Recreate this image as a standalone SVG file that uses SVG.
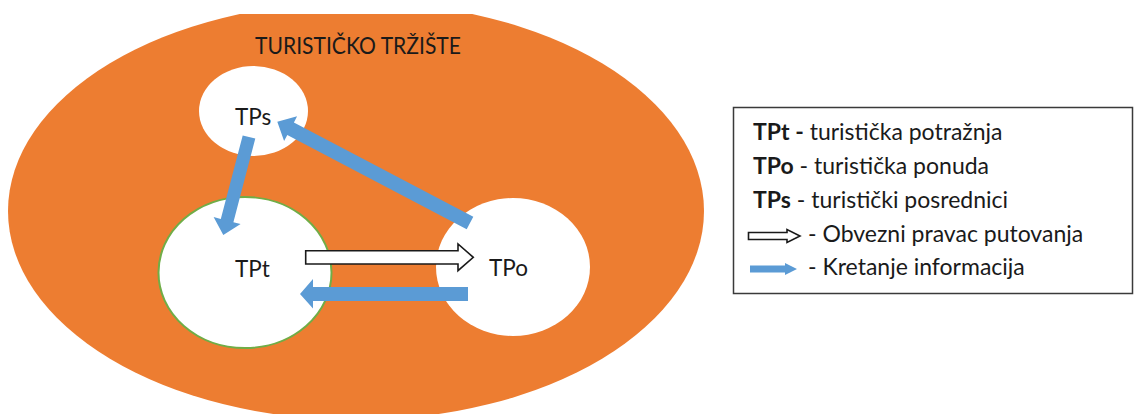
<svg xmlns="http://www.w3.org/2000/svg" width="1137" height="414" viewBox="0 0 1137 414">
  <style>
    text { font-family: Lato, "Liberation Sans", sans-serif; fill: #1a1a1a; }
    .lbl { font-size: 22.5px; }
    .ttl { font-size: 23px; }
    .leg { font-size: 23px; }
    .b { font-weight: bold; }
    .info { fill: #5b9bd5; }
    .route { fill: #ffffff; stroke: #1a1a1a; stroke-width: 1.6; stroke-linejoin: miter; }
    .node { fill: #ffffff; }
  </style>
  <defs>
    <clipPath id="topclip">
      <rect x="0" y="14" width="1137" height="400"/>
    </clipPath>
  </defs>
  <rect x="0" y="0" width="1137" height="414" fill="#ffffff"/>

  <g id="market">
    <ellipse cx="356" cy="211" rx="348" ry="209" fill="#ed7d31" clip-path="url(#topclip)"/>
    <text class="ttl" x="255" y="54" textLength="206" lengthAdjust="spacingAndGlyphs">TURISTIČKO TRŽIŠTE</text>
  </g>

  <g id="node-TPs">
    <ellipse class="node" cx="253.5" cy="111" rx="54.5" ry="45"/>
    <text class="lbl" x="235" y="125">TPs</text>
  </g>

  <g id="node-TPt">
    <ellipse class="node" cx="245" cy="272.5" rx="86.5" ry="75.5" stroke="#70ad47" stroke-width="2"/>
    <text class="lbl" x="235" y="277">TPt</text>
  </g>

  <g id="node-TPo">
    <ellipse class="node" cx="513" cy="267" rx="77" ry="69"/>
    <text class="lbl" x="489" y="276">TPo</text>
  </g>

  <g id="connectors">
    <polygon class="info" points="255.3,138.6 233.4,222.2 240.6,224.1 223.3,235 213.6,217 220.8,218.9 242.7,135.4"/>
    <polygon class="info" points="473.3,216.8 293.9,122.5 297.1,116.3 277.3,121.7 284.1,141.1 287.3,134.9 466.7,229.2"/>
    <polygon class="info" points="468,287 313,287 313,279 300,294 313,308.5 313,301 468,301"/>
    <polygon class="route" points="305.7,250.7 458,250.7 458,244 473.3,257.3 458,270.7 458,264 305.7,264"/>
  </g>

  <g id="legend">
    <rect x="733.5" y="107.5" width="399" height="186" fill="#ffffff" stroke="#3a3a3a" stroke-width="1.5"/>
    <text class="leg" x="753" y="140"><tspan class="b">TPt -</tspan> turistička potražnja</text>
    <text class="leg" x="753" y="174"><tspan class="b">TPo</tspan> - turistička ponuda</text>
    <text class="leg" x="753" y="208"><tspan class="b">TPs</tspan> - turistički posrednici</text>
    <polygon class="route" points="748.5,232.5 787,232.5 787,229.5 800,236 787,242.5 787,239.5 748.5,239.5"/>
    <text class="leg" x="808" y="242">- Obvezni pravac putovanja</text>
    <polygon class="info" points="750,265.5 785,265.5 785,263 797,269 785,275 785,272.5 750,272.5"/>
    <text class="leg" x="808" y="275">- Kretanje informacija</text>
  </g>
</svg>
